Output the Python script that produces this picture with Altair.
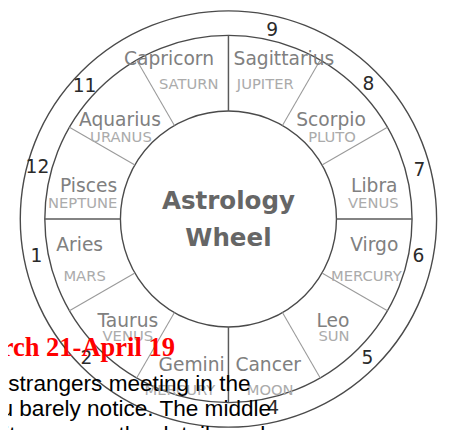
import altair as alt
import pandas as pd
import numpy as np

# ---- data ----
signs = ["Sagittarius", "Capricorn", "Aquarius", "Pisces", "Aries", "Taurus",
         "Gemini", "Cancer", "Leo", "Virgo", "Libra", "Scorpio"]
planets = ["JUPITER", "SATURN", "URANUS", "NEPTUNE", "MARS", "VENUS",
           "MERCURY", "MOON", "SUN", "MERCURY", "VENUS", "PLUTO"]
houses = ["9", "8", "7", "6", "5", "4", "2", "1", "12", "11"]
spoke_angles = [0, 30, 60, 90, 120, 150, 180, 210, 240, 270, 300, 330]
title_lines = ["Astrology", "Wheel"]
overlay_red = "March 21-April 19"
overlay_lines = ["strangers meeting in the", "u barely notice. The middle",
                 "its even as the details and"]

# ---- layout (image pixel coordinates) ----
CX, CY = 232.5, 219.0
R_IN, R_MID, R_OUT = 110, 187, 212
name_x = [289, 172, 122, 90, 81, 130, 195, 273, 339, 381, 381, 337]
name_y = [62, 62, 124, 192, 252, 329, 374, 374, 329, 252, 192, 124]
planet_x = [270, 192, 123, 84, 86, 130, 183, 275, 340, 373, 380, 338]
planet_y = [87, 87, 141, 208, 282, 343, 398, 398, 343, 282, 208, 141]
house_x = [277, 375, 427, 426, 374, 278, 88, 37, 38, 86]
house_y = [33, 88, 175, 263, 367, 418, 367, 263, 172, 90]

W, H = 442, 422
xs = alt.Scale(domain=[8, 8 + W], nice=False, zero=False)
ys = alt.Scale(domain=[8, 8 + H], nice=False, zero=False, reverse=True)


def X(f):
    return alt.X(f, type="quantitative", scale=xs, axis=None)


def Y(f):
    return alt.Y(f, type="quantitative", scale=ys, axis=None)


# circles
circ = pd.DataFrame({"x": [CX] * 3, "y": [CY] * 3,
                     "size": [(2 * R_OUT) ** 2, (2 * R_MID) ** 2, (2 * R_IN) ** 2]})
circles = alt.Chart(circ).mark_point(shape="circle", filled=False, color="#4a4a4a",
                                     strokeWidth=1.4, opacity=1).encode(
    x=X("x"), y=Y("y"), size=alt.Size("size:Q", scale=None, legend=None))

# spokes
sp = pd.DataFrame({"a": spoke_angles})
sp["rad"] = np.deg2rad(sp["a"])
sp["x"] = CX + R_IN * np.cos(sp["rad"])
sp["y"] = CY - R_IN * np.sin(sp["rad"])
sp["x2"] = CX + R_MID * np.cos(sp["rad"])
sp["y2"] = CY - R_MID * np.sin(sp["rad"])
sp["major"] = sp["a"] % 90 == 0
spokes_minor = alt.Chart(sp[~sp["major"]]).mark_rule(color="#9a9a9a", strokeWidth=1.1).encode(
    x=X("x"), y=Y("y"), x2="x2", y2="y2")
spokes_major = alt.Chart(sp[sp["major"]]).mark_rule(color="#5a5a5a", strokeWidth=1.5).encode(
    x=X("x"), y=Y("y"), x2="x2", y2="y2")

# sign names and planets
df_sign = pd.DataFrame({"sign": signs, "planet": planets, "nx": name_x, "ny": name_y,
                        "px": planet_x, "py": planet_y})
names = alt.Chart(df_sign).mark_text(font="DejaVu Sans", fontSize=19, color="#808080",
                                     align="center", baseline="alphabetic").encode(
    x=X("nx"), y=Y("ny"), text="sign:N")
plan = alt.Chart(df_sign).mark_text(font="DejaVu Sans", fontSize=15, color="#ababab",
                                    align="center", baseline="alphabetic").encode(
    x=X("px"), y=Y("py"), text="planet:N")

# house numbers
df_house = pd.DataFrame({"h": houses, "x": house_x, "y": house_y})
nums = alt.Chart(df_house).mark_text(font="DejaVu Sans", fontSize=19, color="#2a2a2a",
                                     align="center", baseline="alphabetic").encode(
    x=X("x"), y=Y("y"), text="h:N")

# centre title
df_title = pd.DataFrame({"t": title_lines, "x": [CX, CX], "y": [209, 247]})
title = alt.Chart(df_title).mark_text(font="DejaVu Sans", fontSize=25, fontWeight="bold",
                                      color="#666666", align="center",
                                      baseline="alphabetic").encode(
    x=X("x"), y=Y("y"), text="t:N")

# overlay text
df_red = pd.DataFrame({"t": [overlay_red], "x": [178], "y": [359]})
red = alt.Chart(df_red).mark_text(font="Liberation Serif", fontSize=27, fontWeight="bold",
                                  color="#ff0000", align="right",
                                  baseline="alphabetic").encode(
    x=X("x"), y=Y("y"), text="t:N")
df_blk = pd.DataFrame({"t": overlay_lines, "x": [255, 276, 270], "y": [394, 420, 446]})
blk = alt.Chart(df_blk).mark_text(font="Liberation Sans", fontSize=23, color="#000000",
                                  align="right", baseline="alphabetic").encode(
    x=X("x"), y=Y("y"), text="t:N")

chart = alt.layer(circles, spokes_minor, spokes_major, names, plan, nums, title, red, blk).properties(
    width=W, height=H, padding=0, autosize=alt.AutoSizeParams(type="none"),
    background="#ffffff"
).configure_view(strokeWidth=0)

chart.save("out.html", embed_options={"renderer": "svg", "actions": False})
